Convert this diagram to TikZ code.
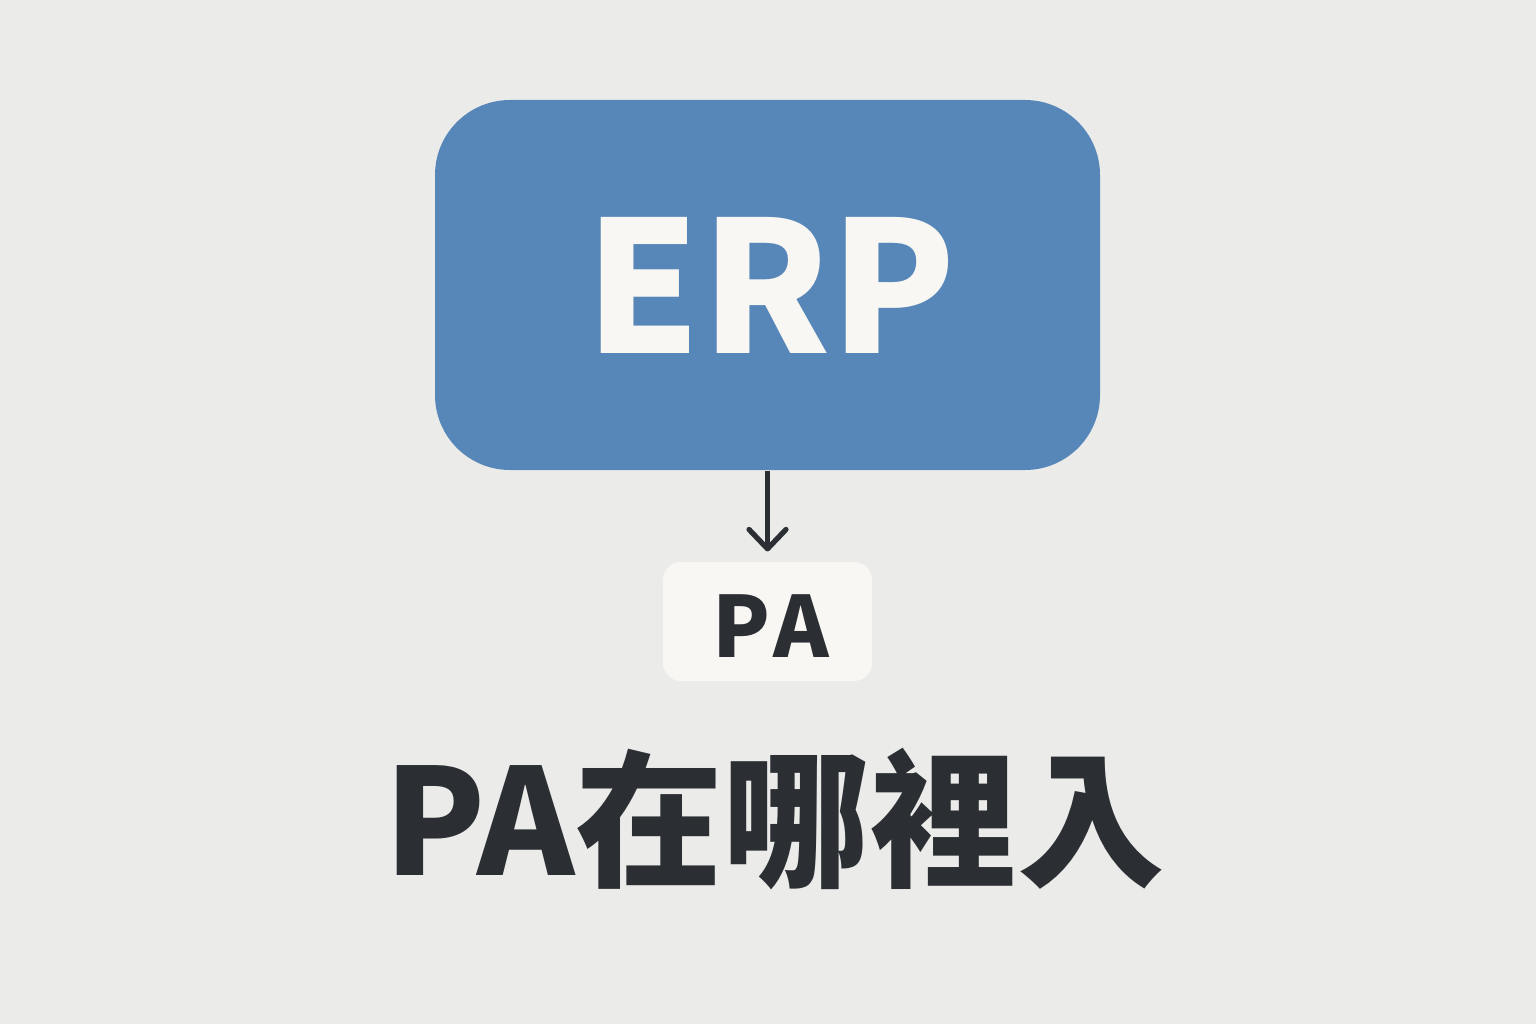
\documentclass[tikz,border=0pt]{standalone}
\usepackage{fontspec}
\setmainfont{Noto Sans CJK TC}
\usetikzlibrary{arrows.meta}
\definecolor{bg}{HTML}{EBEBE9}
\definecolor{erpblue}{HTML}{5787B8}
\definecolor{cream}{HTML}{F8F7F3}
\definecolor{ink}{HTML}{2B2F33}
\tikzset{
  bigbox/.style={fill=erpblue, rounded corners=0.75cm, minimum width=6.65cm, minimum height=3.7cm, inner sep=0pt},
  smallbox/.style={fill=cream, rounded corners=0.18cm, minimum width=2.09cm, minimum height=1.19cm, inner sep=0pt},
  conn/.style={draw=ink, line width=1.5pt, shorten >=2.8pt, -{Straight Barb[length=5.5pt,width=10.5pt,line width=1.5pt,round]}}
}
\begin{document}
\begin{tikzpicture}
\fill[bg] (0,0) rectangle (15.36,10.24);
\useasboundingbox (0,0) rectangle (15.36,10.24);
\node[bigbox] (erp) at (7.675,7.39) {};
\node[text=cream, font=\bfseries\fontsize{52}{60}\selectfont] (erpt) at (7.71,6.71) [anchor=base] {ERP};
\node[smallbox] (pa) at (7.675,4.025) {};
\node[text=ink, font=\bfseries\fontsize{24}{28}\selectfont] (pat) at (7.71,3.67) [anchor=base] {P\kern1pt A};
\draw[conn] (erp.south) -- (pa.north);
\node[text=ink, font=\bfseries\fontsize{42}{48}\selectfont] (title) at (7.75,1.49) [anchor=base] {PA在哪裡入};
\end{tikzpicture}
\end{document}
